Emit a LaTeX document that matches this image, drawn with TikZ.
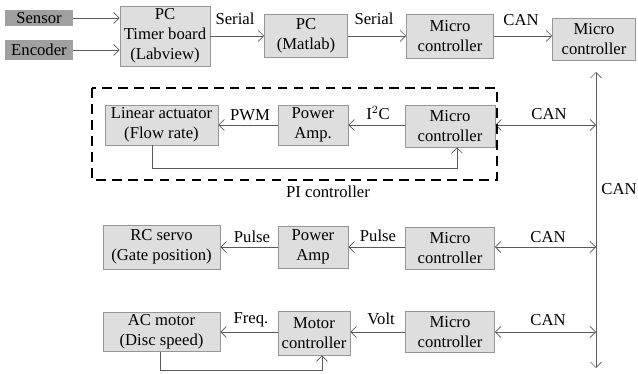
\documentclass[tikz,border=0pt]{standalone}
\usepackage{fontspec}
\setmainfont{Liberation Serif}
\usepackage{tikz}
\usetikzlibrary{arrows.meta, positioning, calc}
\definecolor{boxfill}{RGB}{222,222,222}
\definecolor{boxdark}{RGB}{160,160,160}
\definecolor{boxline}{RGB}{150,150,150}
\definecolor{wire}{RGB}{90,90,90}
\tikzset{
  block/.style={rectangle, draw=boxline, fill=boxfill, align=center, inner sep=1pt,
    font=\fontsize{12}{14.5}\selectfont, line width=0.4pt},
  darkblock/.style={block, fill=boxdark, draw=boxdark},
  arrow/.style={-{Straight Barb[length=4pt,width=8pt]}, line width=0.5pt, color=wire},
  darrow/.style={{Straight Barb[length=4pt,width=8pt]}-{Straight Barb[length=4pt,width=8pt]}, line width=0.5pt, color=wire},
  lbl/.style={font=\fontsize{12}{14.5}\selectfont, inner sep=0pt}
}

\begin{document}
\begin{tikzpicture}[x=0.72pt, y=-0.72pt]
\useasboundingbox (0,0) rectangle (638,374);
%--- top row ---
\node[darkblock, minimum width=67*0.72pt, minimum height=15*0.72pt] (sensor) at (39,18) {Sensor};
\node[darkblock, minimum width=67*0.72pt, minimum height=19*0.72pt] (encoder) at (39,50) {Encoder};
\node[block, minimum width=90*0.72pt, minimum height=60*0.72pt] (timer) at (165,36) {PC\\Timer board\\(Labview)};
\node[block, minimum width=83*0.72pt, minimum height=43*0.72pt] (pcm) at (306,36) {PC\\(Matlab)};
\node[block, minimum width=87*0.72pt, minimum height=44*0.72pt] (mctop) at (450,36) {Micro\\controller};
\node[block, minimum width=83*0.72pt, minimum height=42*0.72pt] (mcmain) at (594,39) {Micro\\controller};
\draw[arrow] (sensor) -- (sensor -| timer.west);
\draw[arrow] (encoder) -- (encoder -| timer.west);
\draw[arrow] (timer) -- (pcm);
\draw[arrow] (pcm) -- (mctop);
\draw[arrow] (mctop) -- (mctop -| mcmain.west);
\node[lbl] (serA) at (235,19) {Serial};
\node[lbl] (serB) at (374,19) {Serial};
\node[lbl] (canA) at (521,20) {CAN};

%--- CAN bus ---
\coordinate (bustop) at (596,72);
\coordinate (busbot) at (596,368);
\draw[darrow] (bustop) -- (busbot);
\node[lbl] (canbus) at (619,189) {CAN};

%--- PI controller (row 2) ---
\node[block, minimum width=113*0.72pt, minimum height=40*0.72pt] (lin) at (161.5,125) {Linear actuator\\(Flow rate)};
\node[block, minimum width=70*0.72pt, minimum height=40*0.72pt] (pampA) at (313,125) {Power\\Amp.};
\node[block, minimum width=90*0.72pt, minimum height=42*0.72pt] (mcB) at (450,126) {Micro\\controller};
\draw[arrow] (pampA) -- (lin);
\draw[arrow] (mcB.west |- pampA) -- (pampA);
\draw[darrow] (mcB.east |- pampA) -- (pampA -| bustop);
\node[lbl] (pwm) at (250,115) {PWM};
\node[lbl] (iic) at (378,113) {I$^2$C};
\node[lbl] (canB) at (549,114) {CAN};
% feedback
\coordinate (fbA) at (152,168);
\coordinate (fbB) at (457,168);
\draw[arrow] (lin.south -| fbA) -- (fbA) -- (fbB) -- (mcB.south -| fbB);
\draw[line width=1.4pt, dash pattern=on 7pt off 4.5pt] (92,88) rectangle (497,180);
\node[lbl] (pilbl) at (328,192) {PI controller};

%--- row 3 ---
\node[block, minimum width=117*0.72pt, minimum height=44*0.72pt] (servo) at (161.5,247) {RC servo\\(Gate position)};
\node[block, minimum width=70*0.72pt, minimum height=42*0.72pt] (pampB) at (313,247) {Power\\Amp};
\node[block, minimum width=89*0.72pt, minimum height=42*0.72pt] (mcC) at (450,248) {Micro\\controller};
\draw[arrow] (pampB) -- (servo);
\draw[arrow] (mcC.west |- pampB) -- (pampB);
\draw[darrow] (mcC.east |- pampB) -- (pampB -| bustop);
\node[lbl] (pulA) at (252,237) {Pulse};
\node[lbl] (pulB) at (378,236) {Pulse};
\node[lbl] (canC) at (548,237) {CAN};

%--- row 4 ---
\node[block, minimum width=117*0.72pt, minimum height=39*0.72pt] (acm) at (161.5,332) {AC motor\\(Disc speed)};
\node[block, minimum width=72*0.72pt, minimum height=44*0.72pt] (motc) at (314,333) {Motor\\controller};
\node[block, minimum width=89*0.72pt, minimum height=41*0.72pt] (mcD) at (450,332) {Micro\\controller};
\draw[arrow] (motc.west |- acm) -- (acm);
\draw[arrow] (mcD) -- (mcD -| motc.east);
\draw[darrow] (mcD) -- (mcD -| bustop);
\node[lbl] (freq) at (251,320) {Freq.};
\node[lbl] (volt) at (381,319) {Volt};
\node[lbl] (canD) at (548,320) {CAN};
% feedback
\coordinate (fbC) at (160,370);
\coordinate (fbD) at (322,370);
\draw[arrow] (acm.south -| fbC) -- (fbC) -- (fbD) -- (motc.south -| fbD);
\end{tikzpicture}
\end{document}
